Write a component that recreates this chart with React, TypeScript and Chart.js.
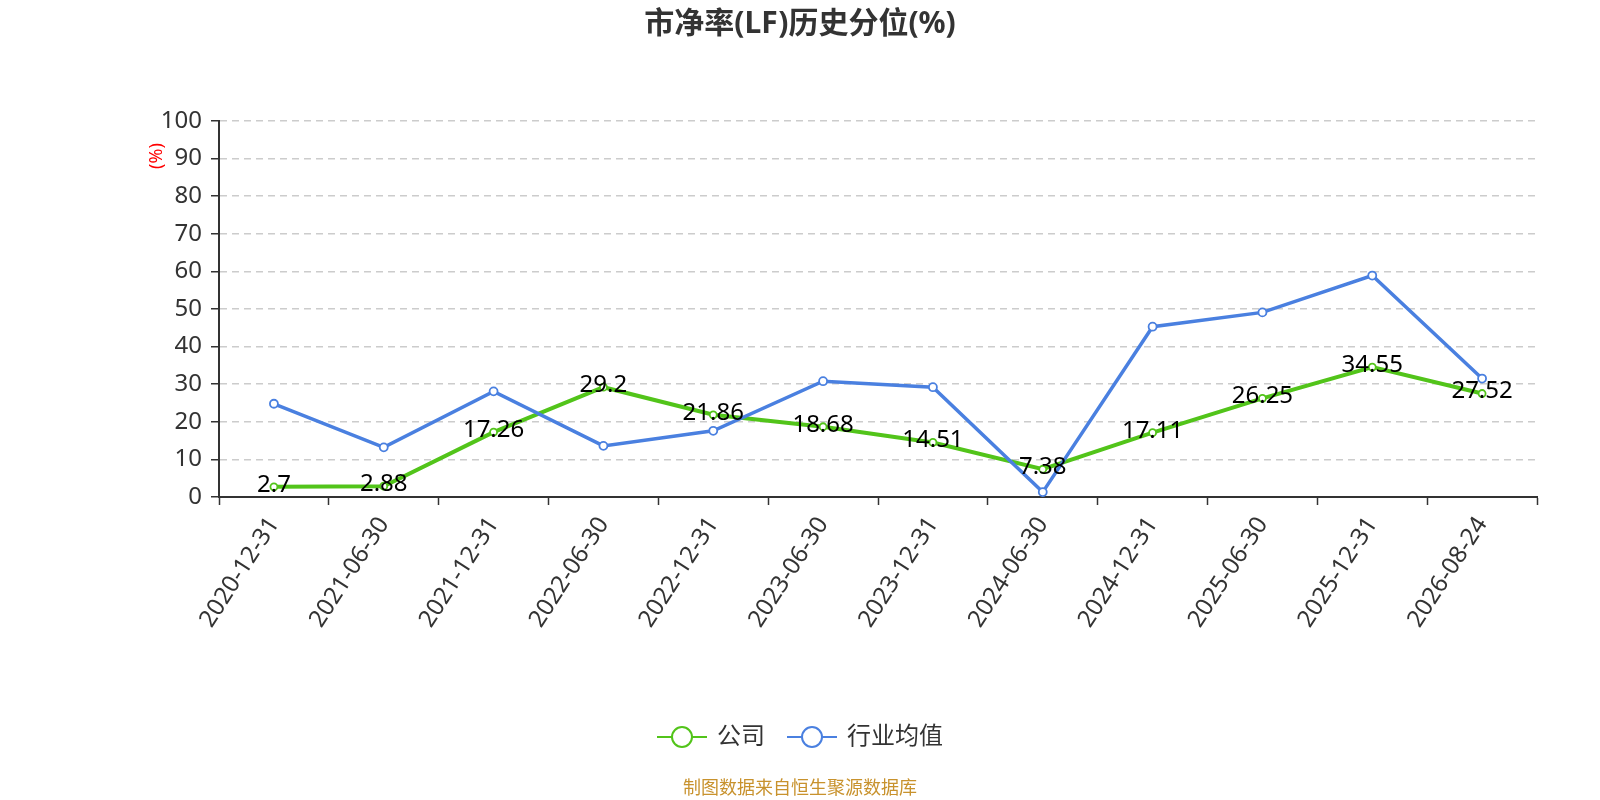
import React, { useEffect, useRef } from "react";
import { Chart, registerables } from "chart.js";

Chart.register(...registerables);

const FONT = '"Noto Sans", "Noto Sans CJK SC", sans-serif';

const categories = [
  "2020-12-31",
  "2021-06-30",
  "2021-12-31",
  "2022-06-30",
  "2022-12-31",
  "2023-06-30",
  "2023-12-31",
  "2024-06-30",
  "2024-12-31",
  "2025-06-30",
  "2025-12-31",
  "2026-08-24",
];

const companyValues = [2.7, 2.88, 17.26, 29.2, 21.86, 18.68, 14.51, 7.38, 17.11, 26.25, 34.55, 27.52];
const industryValues = [24.8, 13.2, 28.1, 13.6, 17.6, 30.8, 29.2, 1.3, 45.3, 49.1, 58.9, 31.5];

const seriesNames = ["公司", "行业均值"];
const seriesColors = ["#52C41A", "#4A80E0"];

const TITLE = "市净率(LF)历史分位(%)";
const Y_TITLE = "(%)";
const FOOTER = "制图数据来自恒生聚源数据库";

const Y_MIN = 0;
const Y_MAX = 100;
const Y_STEP = 10;

const overlayPlugin = {
  id: "overlay",
  afterDatasetsDraw(chart: any) {
    const ctx = chart.ctx as CanvasRenderingContext2D;
    const meta = chart.getDatasetMeta(0);
    ctx.save();
    ctx.font = `24px ${FONT}`;
    ctx.fillStyle = "#000";
    ctx.textAlign = "center";
    ctx.textBaseline = "middle";
    meta.data.forEach((pt: any, i: number) => {
      ctx.fillText(String(companyValues[i]), pt.x, pt.y - 2);
    });
    ctx.restore();
  },
  afterDraw(chart: any) {
    const ctx = chart.ctx as CanvasRenderingContext2D;
    const W = chart.width;
    ctx.save();
    // title
    ctx.font = `bold 30px ${FONT}`;
    ctx.fillStyle = "#333";
    ctx.textAlign = "center";
    ctx.textBaseline = "middle";
    ctx.fillText(TITLE, W / 2, 24);

    // y-axis title
    ctx.save();
    ctx.translate(157, 156);
    ctx.rotate(-Math.PI / 2);
    ctx.font = `18px ${FONT}`;
    ctx.fillStyle = "#ff0000";
    ctx.textAlign = "center";
    ctx.textBaseline = "middle";
    ctx.fillText(Y_TITLE, 0, 0);
    ctx.restore();

    // legend
    ctx.font = `24px ${FONT}`;
    const iconW = 50;
    const textGap = 10;
    const itemGap = 22;
    const widths = seriesNames.map((n) => iconW + textGap + ctx.measureText(n).width);
    const total = widths.reduce((a, b) => a + b, 0) + itemGap * (seriesNames.length - 1);
    let x = W / 2 - total / 2;
    const ly = 737;
    seriesNames.forEach((name, i) => {
      ctx.strokeStyle = seriesColors[i];
      ctx.lineWidth = 2;
      ctx.beginPath();
      ctx.moveTo(x, ly);
      ctx.lineTo(x + iconW, ly);
      ctx.stroke();
      ctx.beginPath();
      ctx.arc(x + iconW / 2, ly, 10, 0, Math.PI * 2);
      ctx.fillStyle = "#fff";
      ctx.fill();
      ctx.stroke();
      ctx.fillStyle = "#333";
      ctx.textAlign = "left";
      ctx.textBaseline = "middle";
      ctx.fillText(name, x + iconW + textGap, ly);
      x += widths[i] + itemGap;
    });

    // footer
    ctx.font = `18px ${FONT}`;
    ctx.fillStyle = "#C8922D";
    ctx.textAlign = "center";
    ctx.textBaseline = "middle";
    ctx.fillText(FOOTER, W / 2, 789);
    ctx.restore();
  },
};

export default function App() {
  const canvasRef = useRef<HTMLCanvasElement | null>(null);

  useEffect(() => {
    if (!canvasRef.current) return;
    const chart = new Chart(canvasRef.current, {
      type: "line",
      data: {
        labels: categories,
        datasets: [
          {
            label: seriesNames[0],
            data: companyValues,
            borderColor: seriesColors[0],
            backgroundColor: "#fff",
            borderWidth: 4,
            pointRadius: 3.5,
            pointBorderWidth: 1.8,
            pointBackgroundColor: "#fff",
            pointBorderColor: seriesColors[0],
            tension: 0,
            order: 2,
          },
          {
            label: seriesNames[1],
            data: industryValues,
            borderColor: seriesColors[1],
            backgroundColor: "#fff",
            borderWidth: 3.5,
            pointRadius: 4,
            pointBorderWidth: 1.8,
            pointBackgroundColor: "#fff",
            pointBorderColor: seriesColors[1],
            tension: 0,
            order: 1,
          },
        ],
      },
      options: {
        responsive: false,
        animation: false,
        devicePixelRatio: 1,
        layout: { padding: { top: 121, right: 63, bottom: 0, left: 0 } },
        plugins: {
          legend: { display: false },
          title: { display: false },
          tooltip: { enabled: false },
        },
        scales: {
          x: {
            type: "category",
            offset: true,
            afterFit: (scale: any) => {
              scale.height = 303;
            },
            grid: {
              display: true,
              offset: true,
              drawOnChartArea: false,
              drawTicks: true,
              tickLength: 8,
              tickColor: "#333",
              tickWidth: 1.5,
            },
            border: { display: true, color: "#333", width: 2 },
            ticks: {
              autoSkip: false,
              minRotation: 57,
              maxRotation: 57,
              padding: 7,
              color: "#333",
              font: { family: FONT, size: 24 },
            },
          },
          y: {
            type: "linear",
            min: Y_MIN,
            max: Y_MAX,
            afterFit: (scale: any) => {
              scale.width = 219;
            },
            grid: {
              color: "#cccccc",
              lineWidth: 1.5,
              drawTicks: true,
              tickLength: 8,
              tickColor: "#333",
              tickWidth: 1.5,
            },
            border: { display: true, color: "#333", width: 2, dash: [7, 5] },
            ticks: {
              stepSize: Y_STEP,
              padding: 9,
              color: "#333",
              font: { family: FONT, size: 24 },
            },
          },
        },
      },
      plugins: [overlayPlugin],
    } as any);
    return () => chart.destroy();
  }, []);

  return (
    <div style={{ position: "fixed", left: 0, top: 0, width: 1600, height: 800, background: "#fff" }}>
      <canvas ref={canvasRef} width={1600} height={800} style={{ width: 1600, height: 800 }} />
    </div>
  );
}
